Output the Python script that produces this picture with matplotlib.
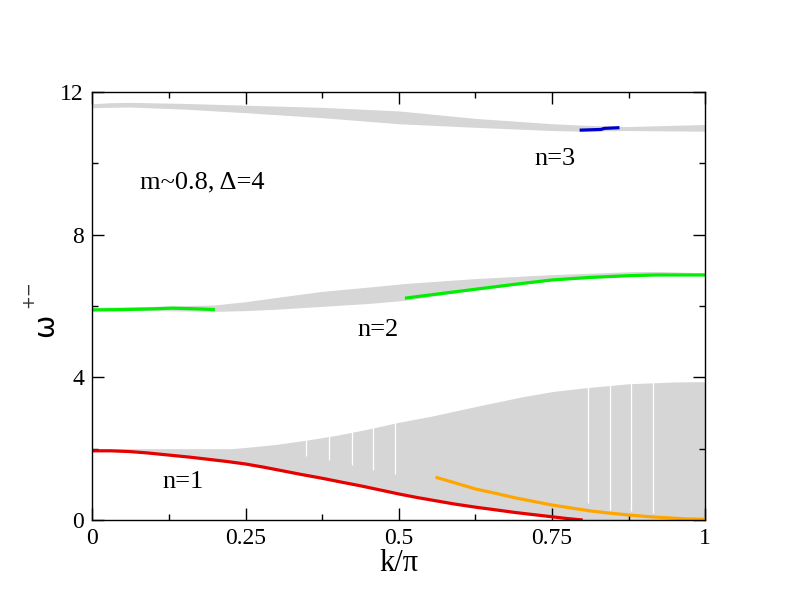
import numpy as np
import matplotlib
matplotlib.use("Agg")
import matplotlib.pyplot as plt
from matplotlib.ticker import MultipleLocator

# upper continuum (n=3)
k_top = [0, 0.03, 0.06, 0.15, 0.25, 0.375, 0.5, 0.625, 0.75, 0.8, 0.87, 1.0]
top_hi = [11.67, 11.70, 11.71, 11.68, 11.63, 11.57, 11.47, 11.26, 11.11, 11.07, 11.03, 11.09]
top_lo = [11.56, 11.57, 11.58, 11.52, 11.42, 11.28, 11.11, 11.01, 10.92, 10.90, 10.92, 10.90]

# middle continuum (n=2)
k_mid = [0, 0.1, 0.2, 0.25, 0.3, 0.375, 0.45, 0.51, 0.625, 0.75, 0.875, 0.92, 1.0]
mid_hi = [5.96, 5.99, 6.03, 6.12, 6.24, 6.41, 6.53, 6.63, 6.77, 6.88, 6.96, 6.97, 6.93]
mid_lo = [5.86, 5.87, 5.85, 5.87, 5.91, 5.99, 6.07, 6.16, 6.45, 6.71, 6.83, 6.85, 6.85]

# lower continuum (n=1)
k_low = [0, 0.1, 0.2, 0.227, 0.26, 0.3, 0.35, 0.4, 0.45, 0.5, 0.55, 0.625, 0.7,
         0.75, 0.8, 0.875, 0.95, 1.0]
low_hi = [2.0, 2.0, 2.0, 2.0, 2.05, 2.12, 2.24, 2.38, 2.55, 2.74, 2.9, 3.18, 3.45,
          3.6, 3.7, 3.82, 3.87, 3.88]
low_lo = [1.94, 1.87, 1.69, 1.63, 1.53, 1.41, 1.25, 1.07, 0.9, 0.73, 0.57, 0.36, 0.19,
          0.09, 0.0, 0.0, 0.0, 0.0]

# white gaps seen in the lower continuum
k_gap = [0.349, 0.386, 0.423, 0.458, 0.494, 0.809, 0.844, 0.879, 0.915]
gap_lo = [1.8, 1.68, 1.55, 1.4, 1.3, 0.47, 0.28, 0.25, 0.2]

# bound states
k_red = [0, 0.03, 0.06, 0.09, 0.125, 0.16, 0.19, 0.22, 0.25, 0.28, 0.31, 0.34, 0.375,
         0.41, 0.44, 0.47, 0.5, 0.53, 0.56, 0.59, 0.625, 0.66, 0.69, 0.72, 0.75, 0.775, 0.8]
w_red = [1.94, 1.94, 1.92, 1.88, 1.82, 1.76, 1.70, 1.64, 1.57, 1.48, 1.38, 1.28, 1.17,
         1.05, 0.95, 0.84, 0.73, 0.63, 0.54, 0.45, 0.36, 0.28, 0.21, 0.15, 0.09, 0.04, 0.0]

k_orange = [0.56, 0.59, 0.625, 0.66, 0.69, 0.72, 0.75, 0.78, 0.81, 0.84, 0.875, 0.91,
            0.94, 0.97, 1.0]
w_orange = [1.2, 1.05, 0.87, 0.74, 0.62, 0.52, 0.42, 0.34, 0.26, 0.2, 0.14, 0.09,
            0.06, 0.03, 0.02]

k_green1 = [0, 0.05, 0.1, 0.13, 0.17, 0.2]
w_green1 = [5.89, 5.90, 5.92, 5.94, 5.92, 5.90]
k_green2 = [0.51, 0.56, 0.625, 0.69, 0.75, 0.81, 0.875, 0.92, 1.0]
w_green2 = [6.22, 6.33, 6.47, 6.61, 6.73, 6.80, 6.85, 6.87, 6.87]

k_blue = [0.795, 0.83, 0.835, 0.86]
w_blue = [10.93, 10.95, 10.98, 11.0]

serif = "Liberation Serif"
gray = "#d6d6d6"

fig = plt.figure(figsize=(7.92, 6.12), dpi=100)
ax = fig.add_axes([92.3/792, 92/612, 613/792, 428/612])

ax.fill_between(k_top, top_lo, top_hi, color=gray, lw=0)
ax.fill_between(k_mid, mid_lo, mid_hi, color=gray, lw=0)
ax.fill_between(k_low, low_lo, low_hi, color=gray, lw=0)
ax.vlines(k_gap, gap_lo, 3.95, color="white", lw=0.9)

lw = 2.3
ax.plot(k_red, w_red, color="#e60000", lw=lw, solid_capstyle="butt")
ax.plot(k_orange, w_orange, color="#ffa500", lw=lw, solid_capstyle="butt")
ax.plot(k_green1, w_green1, color="#00ee00", lw=lw, solid_capstyle="butt")
ax.plot(k_green2, w_green2, color="#00ee00", lw=lw, solid_capstyle="butt")
ax.plot(k_blue, w_blue, color="#0000cc", lw=lw, solid_capstyle="butt")

ax.set_xlim(0, 1)
ax.set_ylim(0, 12)
ax.set_xticks([0, 0.25, 0.5, 0.75, 1.0], ["0", "0.25", "0.5", "0.75", "1"])
ax.set_yticks([0, 4, 8, 12], ["0", "4", "8", "12"])
ax.xaxis.set_minor_locator(MultipleLocator(0.125))
ax.yaxis.set_minor_locator(MultipleLocator(2))
ax.tick_params(which="both", direction="in", top=True, right=True, width=1.0)
ax.tick_params(which="major", length=8.5, pad=6, labelsize=17)
ax.tick_params(which="minor", length=4.3)
for lab in ax.get_xticklabels() + ax.get_yticklabels():
    lab.set_fontfamily(serif)
for s in ax.spines.values():
    s.set_linewidth(1.0)

ax.set_xlabel("k/π", fontfamily=serif, fontsize=22, labelpad=0)
fig.text(45/792, 1 - 325/612, "ω", rotation=90, fontfamily="DejaVu Sans",
         fontsize=20, ha="center", va="center")
fig.text(28/792, 1 - 294/612, "+−", rotation=90, fontfamily="DejaVu Sans",
         fontsize=12, ha="center", va="center", color="#333333")

ax.text(0.078, 9.29, "m~0.8, Δ=4", fontfamily=serif, fontsize=19, va="baseline")
ax.text(0.722, 9.95, "n=3", fontfamily=serif, fontsize=19, va="baseline")
ax.text(0.432, 5.16, "n=2", fontfamily=serif, fontsize=19, va="baseline")
ax.text(0.114, 0.90, "n=1", fontfamily=serif, fontsize=19, va="baseline")

fig.savefig("out.png", dpi=100)
